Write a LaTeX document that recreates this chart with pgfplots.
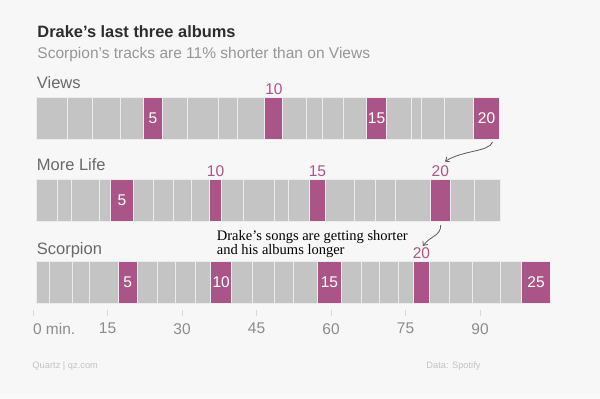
\documentclass[border=0pt]{standalone}
\usepackage{pgfplots}
\pgfplotsset{compat=1.18}
\usepackage{fontspec}
\setmainfont{Liberation Sans}
\newfontfamily\seriffont{Liberation Serif}
\usetikzlibrary{arrows.meta}
\definecolor{bg}{RGB}{247,247,247}
\definecolor{bargray}{RGB}{196,196,196}
\definecolor{sep}{RGB}{236,236,236}
\definecolor{mag}{RGB}{170,85,135}
\definecolor{titlec}{RGB}{45,45,45}
\definecolor{subc}{RGB}{150,150,150}
\definecolor{rowc}{RGB}{105,105,105}
\definecolor{tickc}{RGB}{140,140,140}
\definecolor{tickline}{RGB}{215,215,215}
\definecolor{footc}{RGB}{195,195,195}
\definecolor{arrowc}{RGB}{90,90,90}
\newcommand{\fs}[1]{\fontsize{#1bp}{#1bp}\selectfont}
\pgfplotsset{
  rowaxis/.style={x=5.7bp, y=42bp, xmin=0, xmax=91, ymin=0, ymax=1,
    hide axis, clip=false, scale only axis, anchor=south west},
  tracks/.style={ybar interval, fill=bargray, draw=sep, line width=1bp},
  hl/.style={ybar interval, fill=mag, draw=sep, line width=1bp},
}
\tikzset{
  inlab/.style={text=white, font=\fs{15.5}, anchor=center, inner sep=0pt},
  uplab/.style={text=mag, font=\fs{15.5}, anchor=base, inner sep=0pt, yshift=2.6bp},
}
\begin{document}
\begin{tikzpicture}[x=1bp, y=1bp]
\path[use as bounding box, fill=bg] (0,0) rectangle (600,398);

% titles
\node[anchor=base west, inner sep=0pt, font=\bfseries\fs{16.4}, text=titlec] at (37.3,360.3) {Drake’s last three albums};
\node[anchor=base west, inner sep=0pt, font=\fs{15.5}, text=subc] at (37.3,339.7) {Scorpion’s tracks are 11\% shorter than on Views};

% row labels
\node[anchor=base west, inner sep=0pt, font=\fs{16.5}, text=rowc] at (36.7,309.7) {Views};
\node[anchor=base west, inner sep=0pt, font=\fs{16.5}, text=rowc] at (36.7,227.3) {More Life};
\node[anchor=base west, inner sep=0pt, font=\fs{16.5}, text=rowc] at (36.7,143.7) {Scorpion};

% Views
\begin{axis}[rowaxis, at={(36.7bp,258.5bp)}]
\addplot[tracks] coordinates {(0,1) (5.467,1) (9.717,1) (14.667,1) (18.667,1) (22.15,1) (26.383,1) (31.95,1) (35.2,1) (40.033,1) (43.2,1) (47.283,1) (50.183,1) (53.85,1) (57.867,1) (61.4,1) (65.783,1) (67.55,1) (71.517,1) (76.7,1) (81.15,1)};
\addplot[hl] coordinates {(18.667,1) (22.15,1)};
\addplot[hl] coordinates {(40.033,1) (43.2,1)};
\addplot[hl] coordinates {(57.867,1) (61.4,1)};
\addplot[hl] coordinates {(76.7,1) (81.15,1)};
\node[inlab] at (20.41,0.5) {5};
\node[uplab] at (41.62,1) {10};
\node[inlab] at (59.63,0.5) {15};
\node[inlab] at (78.93,0.5) {20};
\end{axis}

% More Life
\begin{axis}[rowaxis, at={(36.7bp,176.5bp)}]
\addplot[tracks] coordinates {(0,1) (3.633,1) (6.116,1) (11.083,1) (12.883,1) (17.05,1) (20.467,1) (24.067,1) (27.167,1) (30.317,1) (32.417,1) (36.35,1) (41.65,1) (44.217,1) (47.884,1) (50.601,1) (55.684,1) (59.484,1) (62.917,1) (69.05,1) (72.55,1) (76.717,1) (81.434,1)};
\addplot[hl] coordinates {(12.883,1) (17.05,1)};
\addplot[hl] coordinates {(30.317,1) (32.417,1)};
\addplot[hl] coordinates {(47.884,1) (50.601,1)};
\addplot[hl] coordinates {(69.05,1) (72.55,1)};
\node[inlab] at (14.97,0.5) {5};
\node[uplab] at (31.37,1) {10};
\node[uplab] at (49.24,1) {15};
\node[uplab] at (70.8,1) {20};
\end{axis}

% Scorpion
\begin{axis}[rowaxis, at={(36.7bp,94.5bp)}]
\addplot[tracks] coordinates {(0,1) (2.267,1) (6.234,1) (9.301,1) (14.334,1) (17.634,1) (21.201,1) (24.434,1) (27.851,1) (30.568,1) (34.151,1) (37.868,1) (41.635,1) (45.068,1) (49.185,1) (53.535,1) (57.035,1) (60.068,1) (63.518,1) (66.135,1) (68.835,1) (72.452,1) (76.535,1) (81.368,1) (85.035,1) (90.185,1)};
\addplot[hl] coordinates {(14.334,1) (17.634,1)};
\addplot[hl] coordinates {(30.568,1) (34.151,1)};
\addplot[hl] coordinates {(49.185,1) (53.535,1)};
\addplot[hl] coordinates {(66.135,1) (68.835,1)};
\addplot[hl] coordinates {(85.035,1) (90.185,1)};
\node[inlab] at (15.98,0.5) {5};
\node[inlab] at (32.36,0.5) {10};
\node[inlab] at (51.36,0.5) {15};
\node[uplab] at (67.49,1) {20};
\node[inlab] at (87.61,0.5) {25};
\end{axis}

% minute axis
\begin{axis}[at={(33bp,88bp)}, anchor=south west, x=4.9667bp, y=10bp,
  xmin=0, xmax=90, ymin=0, ymax=1, scale only axis, clip=false,
  axis x line=bottom, axis y line=none, x axis line style={draw=none},
  xtick={0,15,30,45,60,75,90},
  xticklabels={\makebox[0pt][l]{0 min.},15,30,45,60,75,90},
  tick align=outside, major tick length=6bp,
  xtick style={draw=tickline, line width=0.8bp},
  xticklabel style={font=\fs{15.5}, text=tickc, inner sep=0pt, anchor=north, yshift=-7bp}]
\addplot[draw=none] coordinates {(0,0) (90,0)};
\end{axis}

% annotation
\node[anchor=base west, inner sep=0pt, font=\seriffont\fs{14.5}] at (216.7,157.5) {Drake’s songs are getting shorter};
\node[anchor=base west, inner sep=0pt, font=\seriffont\fs{14.5}] at (216.7,144) {and his albums longer};
\draw[arrowc, line width=0.8bp, -{Straight Barb[length=3.5bp,width=6bp]}] (492.5,256) .. controls (489,246) and (463,248) .. (445,236.5);
\draw[arrowc, line width=0.8bp, -{Straight Barb[length=3.5bp,width=6bp]}] (440.7,173) .. controls (441,162) and (430,162) .. (423,152);

% footer
\node[anchor=base west, inner sep=0pt, font=\fs{9.3}, text=footc] at (32.3,30) {Quartz | qz.com};
\node[anchor=base east, inner sep=0pt, font=\fs{9.3}, text=footc] at (480.7,30) {Data: Spotify};
\end{tikzpicture}
\end{document}
